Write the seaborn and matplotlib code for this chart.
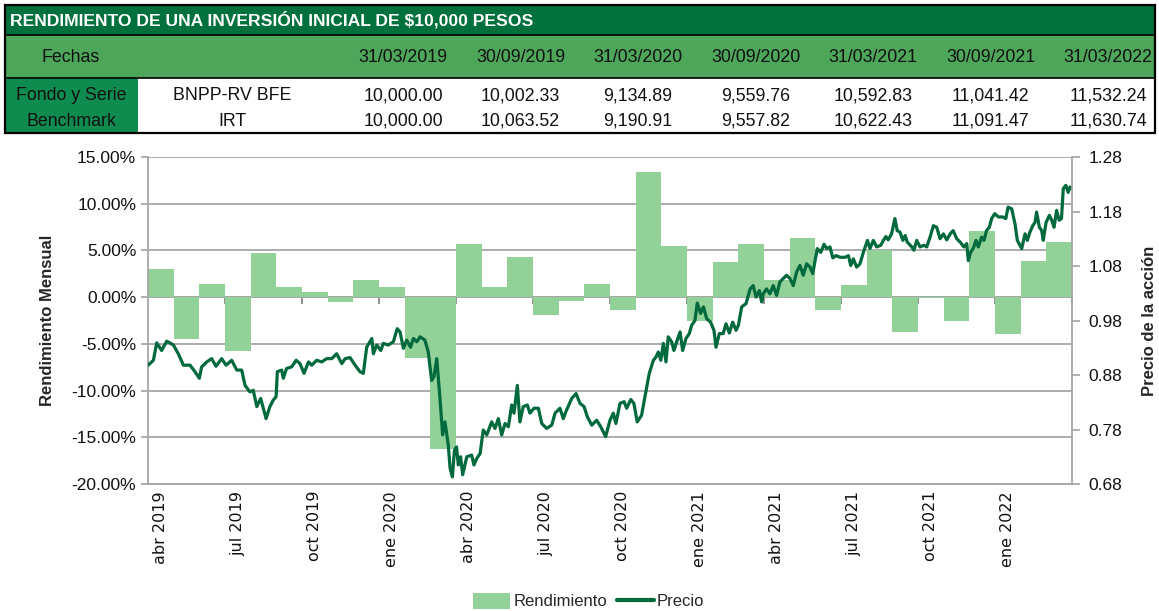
import numpy as np
import pandas as pd
import matplotlib
matplotlib.use("Agg")
import matplotlib.pyplot as plt
import seaborn as sns
from matplotlib.patches import Rectangle, Patch
from matplotlib.lines import Line2D
from matplotlib.ticker import FuncFormatter, FixedLocator

# ---------------- data ----------------
table_title = "RENDIMIENTO DE UNA INVERSIÓN INICIAL DE $10,000 PESOS"
table_dates = ["31/03/2019", "30/09/2019", "31/03/2020", "30/09/2020",
               "31/03/2021", "30/09/2021", "31/03/2022"]
fund_label, fund_name = "Fondo y Serie", "BNPP-RV BFE"
bench_label, bench_name = "Benchmark", "IRT"
fund_values = ["10,000.00", "10,002.33", "9,134.89", "9,559.76",
               "10,592.83", "11,041.42", "11,532.24"]
bench_values = ["10,000.00", "10,063.52", "9,190.91", "9,557.82",
                "10,622.43", "11,091.47", "11,630.74"]

months = ["abr 2019", "may 2019", "jun 2019", "jul 2019", "ago 2019", "sep 2019",
          "oct 2019", "nov 2019", "dic 2019", "ene 2020", "feb 2020", "mar 2020",
          "abr 2020", "may 2020", "jun 2020", "jul 2020", "ago 2020", "sep 2020",
          "oct 2020", "nov 2020", "dic 2020", "ene 2021", "feb 2021", "mar 2021",
          "abr 2021", "may 2021", "jun 2021", "jul 2021", "ago 2021", "sep 2021",
          "oct 2021", "nov 2021", "dic 2021", "ene 2022", "feb 2022", "mar 2022"]
# monthly return, percent
returns = [3.00, -4.46, 1.43, -5.75, 4.75, 1.04, 0.50, -0.54, 1.86, 1.10, -6.50, -16.25,
           5.71, 1.04, 4.25, -1.89, -0.43, 1.43, -1.36, 13.43, 5.46, -2.60, 3.71, 5.68,
           1.86, 6.32, -1.36, 1.32, 5.00, -3.68, -0.10, -2.50, 7.07, -3.96, 3.82, 5.93]

# share price; time in months elapsed since 31/03/2019
price_t = [0.01, 0.21, 0.34, 0.53, 0.73, 0.99, 1.18, 1.38, 1.64, 1.83, 2.00, 2.09, 2.29, 2.48,
           2.65, 2.87, 3.04, 3.26, 3.46, 3.65, 3.78, 3.97, 4.10, 4.24, 4.39, 4.60, 4.75, 4.88,
           4.99, 5.04, 5.21, 5.27, 5.40, 5.60, 5.77, 5.92, 6.08, 6.25, 6.38, 6.57, 6.77, 6.96,
           7.16, 7.35, 7.55, 7.68, 7.87, 8.07, 8.26, 8.39, 8.52, 8.72, 8.78, 8.91, 9.07, 9.17,
           9.36, 9.56, 9.71, 9.82, 9.95, 10.08, 10.23, 10.34, 10.47, 10.60, 10.79, 10.92, 11.05,
           11.14, 11.25, 11.38, 11.48, 11.57, 11.70, 11.77, 11.86, 11.94, 12.02, 12.09, 12.18,
           12.26, 12.42, 12.61, 12.70, 12.81, 12.94, 13.06, 13.20, 13.39, 13.52, 13.65, 13.78,
           13.91, 14.04, 14.17, 14.26, 14.39, 14.49, 14.62, 14.78, 14.88, 15.04, 15.21, 15.34,
           15.53, 15.73, 15.86, 16.05, 16.18, 16.31, 16.51, 16.68, 16.83, 16.99, 17.12, 17.29,
           17.48, 17.64, 17.83, 18.00, 18.13, 18.23, 18.39, 18.55, 18.65, 18.81, 18.93, 19.06,
           19.23, 19.36, 19.53, 19.69, 19.79, 19.88, 19.98, 20.08, 20.18, 20.27, 20.40, 20.49,
           20.62, 20.73, 20.83, 20.96, 21.09, 21.18, 21.31, 21.40, 21.53, 21.64, 21.77, 21.92,
           22.05, 22.13, 22.26, 22.41, 22.52, 22.65, 22.78, 22.91, 23.00, 23.13, 23.30, 23.46,
           23.58, 23.69, 23.82, 23.91, 23.97, 24.10, 24.23, 24.36, 24.49, 24.62, 24.75, 24.88,
           25.01, 25.14, 25.27, 25.40, 25.53, 25.66, 25.79, 25.90, 25.99, 26.08, 26.21, 26.34,
           26.44, 26.57, 26.68, 26.81, 26.97, 27.16, 27.29, 27.38, 27.48, 27.61, 27.74, 27.87,
           28.03, 28.13, 28.26, 28.39, 28.55, 28.65, 28.75, 28.84, 28.97, 29.10, 29.19, 29.30,
           29.41, 29.50, 29.58, 29.76, 29.84, 29.95, 30.08, 30.23, 30.34, 30.47, 30.60, 30.73,
           30.86, 30.99, 31.12, 31.27, 31.37, 31.51, 31.64, 31.79, 31.90, 31.96, 32.05, 32.15,
           32.26, 32.35, 32.48, 32.57, 32.67, 32.78, 32.87, 32.99, 33.13, 33.30, 33.42, 33.51,
           33.65, 33.78, 33.87, 33.97, 34.04, 34.17, 34.26, 34.36, 34.47, 34.56, 34.62, 34.73,
           34.82, 34.88, 34.99, 35.12, 35.21, 35.30, 35.40, 35.50, 35.59, 35.66, 35.76, 35.85,
           35.92, 36.00]
price = [0.898, 0.907, 0.939, 0.925, 0.942, 0.935, 0.919, 0.898, 0.898, 0.886, 0.874, 0.895,
         0.904, 0.910, 0.896, 0.910, 0.898, 0.907, 0.889, 0.889, 0.861, 0.849, 0.852, 0.822,
         0.837, 0.800, 0.822, 0.834, 0.840, 0.886, 0.889, 0.874, 0.892, 0.895, 0.907, 0.901,
         0.883, 0.904, 0.898, 0.907, 0.904, 0.910, 0.910, 0.919, 0.901, 0.910, 0.912, 0.898,
         0.886, 0.883, 0.931, 0.947, 0.919, 0.935, 0.925, 0.938, 0.935, 0.941, 0.965, 0.959,
         0.929, 0.944, 0.931, 0.947, 0.941, 0.950, 0.944, 0.922, 0.870, 0.877, 0.910, 0.834,
         0.770, 0.794, 0.751, 0.709, 0.693, 0.742, 0.748, 0.715, 0.730, 0.697, 0.730, 0.733,
         0.715, 0.727, 0.736, 0.779, 0.770, 0.794, 0.782, 0.800, 0.770, 0.791, 0.785, 0.825,
         0.810, 0.861, 0.794, 0.822, 0.825, 0.810, 0.819, 0.819, 0.791, 0.782, 0.788, 0.810,
         0.819, 0.800, 0.816, 0.837, 0.846, 0.828, 0.822, 0.803, 0.788, 0.797, 0.785, 0.767,
         0.797, 0.810, 0.791, 0.828, 0.831, 0.819, 0.835, 0.828, 0.794, 0.806, 0.840, 0.883,
         0.907, 0.913, 0.922, 0.907, 0.938, 0.904, 0.950, 0.941, 0.925, 0.944, 0.959, 0.925,
         0.947, 0.956, 0.971, 0.980, 1.012, 0.993, 1.005, 0.983, 0.977, 0.962, 0.931, 0.956,
         0.956, 0.974, 0.957, 0.977, 0.962, 0.971, 1.005, 1.011, 1.038, 1.044, 1.023, 1.035,
         1.014, 1.029, 1.038, 1.029, 1.044, 1.026, 1.051, 1.057, 1.063, 1.057, 1.044, 1.069,
         1.081, 1.063, 1.084, 1.078, 1.066, 1.090, 1.112, 1.105, 1.120, 1.112, 1.115, 1.095,
         1.099, 1.096, 1.096, 1.099, 1.081, 1.093, 1.078, 1.084, 1.105, 1.127, 1.112, 1.127,
         1.115, 1.118, 1.127, 1.134, 1.128, 1.139, 1.167, 1.145, 1.142, 1.127, 1.136, 1.124,
         1.115, 1.109, 1.127, 1.115, 1.118, 1.115, 1.133, 1.154, 1.151, 1.130, 1.139, 1.128,
         1.140, 1.145, 1.130, 1.124, 1.115, 1.121, 1.090, 1.105, 1.112, 1.127, 1.115, 1.133,
         1.127, 1.145, 1.151, 1.167, 1.176, 1.170, 1.170, 1.167, 1.188, 1.185, 1.157, 1.127,
         1.118, 1.112, 1.139, 1.127, 1.142, 1.154, 1.160, 1.179, 1.151, 1.145, 1.127, 1.160,
         1.173, 1.164, 1.151, 1.182, 1.164, 1.167, 1.222, 1.228, 1.215, 1.225, 1.222]

# ---------------- style ----------------
BAR_C = "#92D198"
LINE_C = "#006A3C"
GRID_C = "#A6A6A6"
DARK_G = "#00703C"
MID_G = "#4DA659"
LEFT_G = "#0E8B4E"

sns.set_theme(style="white")
ARIAL = ["Liberation Sans", "DejaVu Sans"]
plt.rcParams["font.family"] = ARIAL

W, H = 1159, 611
fig = plt.figure(figsize=(W / 100, H / 100), dpi=100)

# ---------------- table (header) ----------------
tab = fig.add_axes([0, 0, 1, 1])
tab.set_xlim(0, W)
tab.set_ylim(H, 0)
tab.axis("off")
x0, x1 = 5, 1155
tab.add_patch(Rectangle((x0, 5), x1 - x0, 30, facecolor=DARK_G, edgecolor="none"))
tab.add_patch(Rectangle((x0, 35), x1 - x0, 43, facecolor=MID_G, edgecolor="none"))
tab.add_patch(Rectangle((x0, 78), 133, 55, facecolor=LEFT_G, edgecolor="none"))
tab.add_patch(Rectangle((x0, 5), x1 - x0, 128, facecolor="none", edgecolor="black", lw=1.6))
tab.plot([x0, x1], [35, 35], color="black", lw=1.2)
tab.plot([x0, x1], [78, 78], color="black", lw=1.2)

TFS = 12.8
tab.text(10, 20, table_title, color="white", fontsize=12.6, fontweight="bold",
         ha="left", va="center")
tab.text(71, 57, "Fechas", fontsize=TFS, ha="center", va="center", color="#111111")
tab.text(71, 96, fund_label, fontsize=TFS, ha="center", va="center", color="#111111")
tab.text(71, 121, bench_label, fontsize=TFS, ha="center", va="center", color="#111111")
tab.text(232, 96, fund_name, fontsize=TFS, ha="center", va="center", color="#111111")
tab.text(232, 121, bench_name, fontsize=TFS, ha="center", va="center", color="#111111")
for i, (d, fv, bv) in enumerate(zip(table_dates, fund_values, bench_values)):
    cx = 403 + 117.5 * i
    tab.text(cx, 57, d, fontsize=TFS, ha="center", va="center", color="#111111")
    tab.text(cx, 96, fv, fontsize=TFS, ha="center", va="center", color="#111111")
    tab.text(cx, 121, bv, fontsize=TFS, ha="center", va="center", color="#111111")

# ---------------- chart ----------------
L, R, T, B = 148, 1072, 157, 484
ax = fig.add_axes([L / W, 1 - B / H, (R - L) / W, (B - T) / H])
df = pd.DataFrame({"mes": months, "rend": np.array(returns) / 100})
sns.barplot(data=df, x="mes", y="rend", order=months, color=BAR_C, saturation=1,
            width=1.0, edgecolor="none", ax=ax)
ax.set_xlim(-0.5, len(months) - 0.5)
ax.set_ylim(-0.20, 0.15)
ax.set_yticks(np.arange(-0.20, 0.151, 0.05))
ax.yaxis.set_major_formatter(
    FuncFormatter(lambda v, p: f"{(0.0 if abs(v) < 1e-9 else v) * 100:.2f}%"))
ax.set_axisbelow(True)
ax.yaxis.grid(True, color=GRID_C, lw=1.3)
ax.xaxis.grid(False)
ax.set_xlabel("")
ax.set_ylabel("Rendimiento Mensual", fontweight="bold", fontsize=12, labelpad=12)
tick_idx = list(range(0, len(months), 3))
ax.set_xticks(tick_idx)
ax.set_xticklabels([months[i] for i in tick_idx], rotation=90, family="DejaVu Sans",
                   fontsize=11.5, color="#111111")
ax.tick_params(axis="x", length=0, pad=5)
ax.tick_params(axis="y", direction="out", length=5, color=GRID_C, labelsize=12.5,
               labelcolor="#111111", left=True)
for s in ["top", "right"]:
    ax.spines[s].set_visible(False)
for s in ["left", "bottom"]:
    ax.spines[s].set_color(GRID_C)
    ax.spines[s].set_linewidth(1.3)

# category-axis ticks along the 0% line
zero_loc = (0 - (-0.20)) / 0.35
sec = ax.secondary_xaxis(zero_loc)
sec.xaxis.set_major_locator(FixedLocator(np.arange(2.5, len(months), 3)))
sec.tick_params(axis="x", direction="in", length=5, color="#808080", width=1.2,
                labeltop=False, labelbottom=False)
for s in sec.spines.values():
    s.set_color(GRID_C)
    s.set_linewidth(1.3)

# price line on secondary axis
ax2 = ax.twinx()
sns.lineplot(x=np.array(price_t) - 0.5, y=price, color=LINE_C, linewidth=2.3, ax=ax2,
             sort=False, estimator=None)
ax2.set_xlim(-0.5, len(months) - 0.5)
ax2.set_ylim(0.68, 1.28)
ax2.set_yticks(np.arange(0.68, 1.281, 0.10))
ax2.yaxis.set_major_formatter(FuncFormatter(lambda v, p: f"{v:.2f}"))
ax2.set_ylabel("Precio de la acción", fontweight="bold", fontsize=12, labelpad=14)
ax2.tick_params(axis="y", direction="out", length=6, color=GRID_C, labelsize=12.5,
                labelcolor="#111111", right=True, pad=6)
for s in ["top", "left", "bottom"]:
    ax2.spines[s].set_visible(False)
ax2.spines["right"].set_color(GRID_C)
ax2.spines["right"].set_linewidth(1.3)
ax2.grid(False)

handles = [Patch(facecolor=BAR_C, edgecolor="none", label="Rendimiento"),
           Line2D([0], [0], color=LINE_C, lw=3, label="Precio")]
fig.legend(handles=handles, loc="lower center", bbox_to_anchor=(0.508, -0.022), ncol=2,
           frameon=False, fontsize=12, handlelength=2.2, handleheight=1.1,
           columnspacing=0.6, handletextpad=0.2)

fig.savefig("out.png", dpi=100)
